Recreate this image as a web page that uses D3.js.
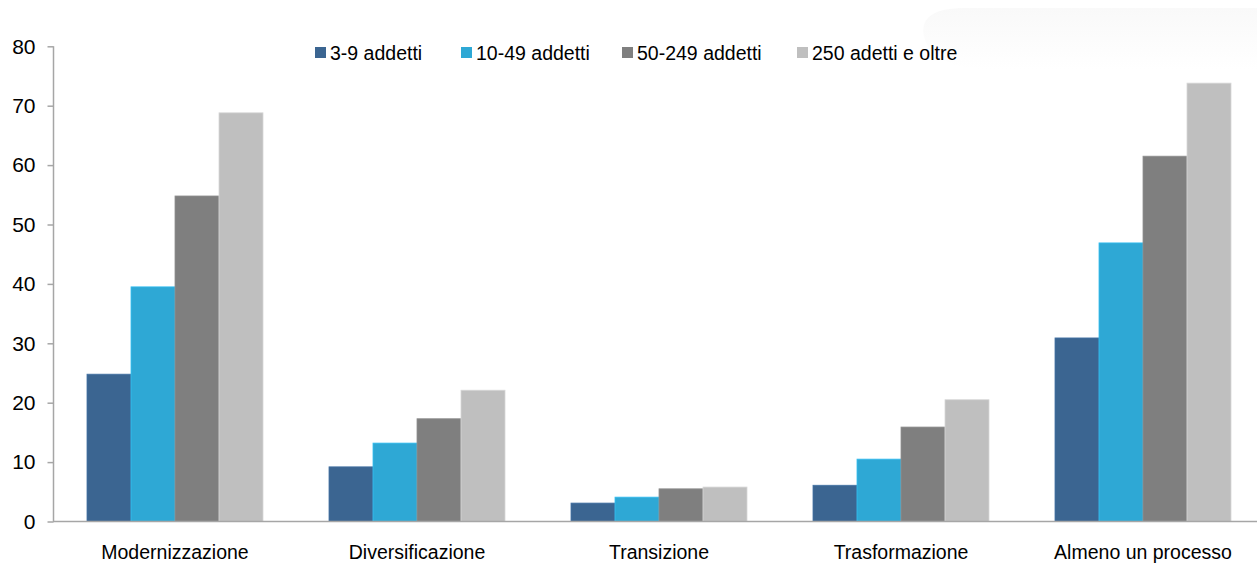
<!DOCTYPE html>
<html>
<head>
<meta charset="utf-8">
<script src="https://cdn.jsdelivr.net/npm/d3@7"></script>
<style>
  html, body { margin: 0; padding: 0; background: #ffffff; }
  svg { display: block; font-family: "Liberation Sans", Arial, sans-serif; }
</style>
</head>
<body>
<svg id="chart" width="1257" height="566"></svg>
<script>
// Categories of process and enterprise size classes
const categories = ["Modernizzazione", "Diversificazione", "Transizione", "Trasformazione", "Almeno un processo"];
const seriesNames = ["3-9 addetti", "10-49 addetti", "50-249 addetti", "250 adetti e oltre"];
const seriesColors = ["#3b6591", "#2ea8d5", "#7f7f7f", "#bfbfbf"];

// Percentage values per size class, one entry per category
const v3_9    = [24.8, 9.2, 3.1, 6.1, 30.9];
const v10_49  = [39.5, 13.2, 4.1, 10.5, 46.9];
const v50_249 = [54.8, 17.3, 5.5, 15.9, 61.5];
const v250    = [68.8, 22.1, 5.8, 20.5, 73.8];
const seriesValues = [v3_9, v10_49, v50_249, v250];

const yTicks = [0, 10, 20, 30, 40, 50, 60, 70, 80];

const svg = d3.select("#chart");
const W = 1257, H = 566;

// faint background shape in the upper right corner
const defs = svg.append("defs");
const grad = defs.append("linearGradient").attr("id", "haze")
  .attr("x1", 0).attr("y1", 0).attr("x2", 0).attr("y2", 1);
grad.append("stop").attr("offset", 0).attr("stop-color", "#f9f9f9");
grad.append("stop").attr("offset", 1).attr("stop-color", "#ffffff");
svg.append("path")
  .attr("d", "M 1257 8 L 960 8 Q 915 10 925 40 Q 935 70 1000 70 L 1257 70 Z")
  .attr("fill", "url(#haze)");

const x0 = 54, x1 = 1264;
const yBase = 521.5, yTop = 46.3;

const x = d3.scaleBand().domain(categories).range([x0, x1])
  .paddingInner(66 / 242).paddingOuter(33 / 242);
const xs = d3.scaleBand().domain(seriesNames).range([0, x.bandwidth()]).padding(0);
const y = d3.scaleLinear().domain([0, 80]).range([yBase, yTop]);

// bars
seriesNames.forEach((s, si) => {
  svg.append("g").selectAll("rect")
    .data(categories.map((c, ci) => ({ c, v: seriesValues[si][ci] })))
    .join("rect")
    .attr("x", d => x(d.c) + xs(s))
    .attr("width", xs.bandwidth())
    .attr("y", d => y(d.v))
    .attr("height", d => yBase - y(d.v))
    .attr("fill", seriesColors[si])
    .attr("stroke", d3.color(seriesColors[si]).brighter(0.35))
    .attr("stroke-width", 0.8);
});

// y axis
const yAxis = svg.append("g").attr("transform", "translate(53.5,0)")
  .call(d3.axisLeft(y).tickValues(yTicks).tickSize(6).tickPadding(12).tickFormat(d3.format("d")));
yAxis.select(".domain").attr("stroke", "#a6a6a6").attr("stroke-width", 1.5)
  .attr("d", `M0,${yTop}V${yBase}`);
yAxis.selectAll(".tick line").attr("stroke", "#a6a6a6").attr("stroke-width", 1.5);
yAxis.selectAll(".tick text").attr("font-size", "21px").attr("fill", "#000")
  .attr("font-family", "Liberation Sans, Arial, sans-serif");

// x axis baseline
svg.append("line").attr("x1", 53).attr("x2", W).attr("y1", yBase).attr("y2", yBase)
  .attr("stroke", "#a6a6a6").attr("stroke-width", 1.5);

// category labels
svg.append("g").selectAll("text").data(categories).join("text")
  .attr("x", d => x(d) + x.bandwidth() / 2)
  .attr("y", 559)
  .attr("text-anchor", "middle")
  .attr("font-size", "19.5px")
  .attr("fill", "#000")
  .text(d => d);

// legend
const legendX = [315, 461, 622, 797];
const lg = svg.append("g");
seriesNames.forEach((s, i) => {
  lg.append("rect").attr("x", legendX[i]).attr("y", 47).attr("width", 11).attr("height", 11)
    .attr("fill", seriesColors[i]);
  lg.append("text").attr("x", legendX[i] + 15).attr("y", 60)
    .attr("font-size", "19.5px").attr("fill", "#000").text(s);
});
</script>
</body>
</html>
